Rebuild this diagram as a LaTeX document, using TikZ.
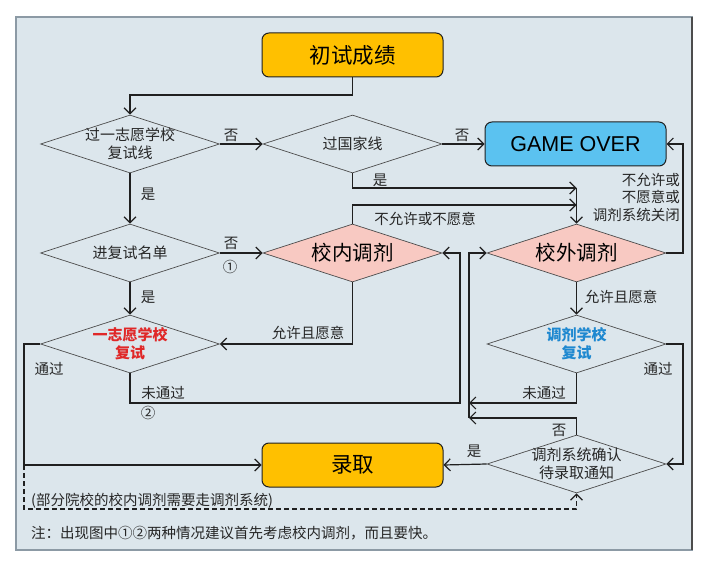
\documentclass[tikz,border=0pt]{standalone}
\usepackage{fontspec}
\setmainfont{Liberation Sans}
\newfontfamily\cjk{Noto Sans CJK SC}
\usetikzlibrary{shapes.geometric,arrows.meta}
\definecolor{bgc}{HTML}{DCE6EC}
\definecolor{framec}{HTML}{8C9AA5}
\definecolor{orangec}{HTML}{FFC000}
\definecolor{bluec}{HTML}{5BC2F0}
\definecolor{pinkc}{HTML}{F8C9C2}
\definecolor{redt}{HTML}{E02828}
\definecolor{bluet}{HTML}{1E88D0}
\definecolor{linec}{HTML}{202020}
\begin{document}
\begin{tikzpicture}[x=1pt,y=-1pt,
  box/.style={rectangle, rounded corners=7pt, minimum width=181pt, minimum height=44pt, draw=linec, line width=1pt, inner sep=0pt},
  dia/.style={diamond, minimum width=179pt, minimum height=58pt, draw=black!70, line width=0.7pt, inner sep=0pt},
  lbl/.style={font=\cjk\fontsize{14.5}{17.5}\selectfont, inner sep=0pt, text=black!85},
  dtxt/.style={font=\cjk\fontsize{15}{18}\selectfont, inner sep=0pt, align=center, text=black!85},
  btxt/.style={font=\cjk\fontsize{21.5}{24}\selectfont, inner sep=0pt},
  ptxt/.style={font=\cjk\fontsize{20.5}{24}\selectfont, inner sep=0pt},
  arr/.style={draw=linec, line width=1.2pt, -{Straight Barb[length=6pt,width=12pt]}}
]
\useasboundingbox (0,0) rectangle (714,569);
\fill[white] (0,0) rectangle (714,569);
\draw[fill=bgc, draw=framec, line width=1.5pt] (16,17) rectangle (692,550);
\draw[draw=black!70, line width=1.5pt] (692,17) -- (692,550);

% boxes
\node[box, fill=orangec] (start) at (352.5,55) {};
\node[btxt] (tstart) at (start) {初试成绩};
\node[box, fill=bluec] (go) at (575.5,144) {};
\node[font=\fontsize{21.5}{24}\selectfont, inner sep=0pt] (tgo) at (go) {GAME OVER};
\node[box, fill=orangec] (admit) at (352.5,465) {};
\node[btxt] (tadmit) at (admit) {录取};

% diamonds
\node[dia] (d1) at (130,144) {};
\node[dtxt] (td1) at (d1) {过一志愿学校\\复试线};
\node[dia] (d2) at (352.5,144) {};
\node[dtxt] (td2) at (d2) {过国家线};
\node[dia] (d3) at (130,253) {};
\node[dtxt] (td3) at (d3) {进复试名单};
\node[dia, fill=pinkc] (inner) at (352.5,253) {};
\node[ptxt] (tinner) at (inner) {校内调剂};
\node[dia] (d4) at (130,344) {};
\node[dtxt, text=redt, font=\cjk\bfseries\fontsize{15}{18}\selectfont] (td4) at (d4) {一志愿学校\\复试};
\node[dia, fill=pinkc] (outer) at (576.5,253) {};
\node[ptxt] (touter) at (outer) {校外调剂};
\node[dia] (d5) at (576.5,344) {};
\node[dtxt, text=bluet, font=\cjk\bfseries\fontsize{15}{18}\selectfont] (td5) at (d5) {调剂学校\\复试};
\node[dia] (d6) at (576.5,464) {};
\node[dtxt] (td6) at (d6) {调剂系统确认\\待录取通知};

% helper coordinates
\coordinate (c1) at (352.5,95);
\coordinate (c2) at (130,95);
\coordinate (c3) at (352.5,188);
\coordinate (c4) at (576.5,188);
\coordinate (c5) at (352.5,205);
\coordinate (c6) at (683,253);
\coordinate (c7) at (683,144);
\coordinate (c8) at (352.5,344);
\coordinate (c9) at (24,344);
\coordinate (c10) at (24,465);
\coordinate (c11) at (130,403);
\coordinate (c12) at (460,403);
\coordinate (c13) at (460,253);
\coordinate (c14) at (24,509);
\coordinate (c15) at (576.5,509);
\coordinate (c16) at (683,344);
\coordinate (c17) at (683,464);
\coordinate (c18) at (576.5,403);
\coordinate (c19) at (469,403);
\coordinate (c20) at (576.5,418);
\coordinate (c21) at (469,418);
\coordinate (c22) at (469,253);

% connectors
\draw[arr] (start.south) -- (c1) -- (c2) -- (d1.north);
\draw[arr] (d1.east) -- (d2.west);
\draw[arr] (d2.east) -- (go.west);
\draw[arr] (d2.south) -- (c3) -- (c4);
\draw[arr] (inner.north) -- (c5) -- (c5 -| c4);
\draw[arr] (c4) -- (outer.north);
\draw[arr] (outer.east) -- (c6) -- (c7) -- (go.east);
\draw[arr] (d1.south) -- (d3.north);
\draw[arr] (d3.east) -- (inner.west);
\draw[arr] (d3.south) -- (d4.north);
\draw[arr] (inner.south) -- (c8) -- (d4.east);
\draw[arr] (d4.west) -- (c9) -- (c10) -- (admit.west);
\draw[arr] (d4.south) -- (c11) -- (c12) -- (c13) -- (inner.east);
\draw[arr, dash pattern=on 5pt off 3pt] (c10) -- (c14) -- (c15) -- (d6.south);
\draw[arr] (outer.south) -- (d5.north);
\draw[arr] (d5.east) -- (c16) -- (c17) -- (d6.east);
\draw[arr] (d5.south) -- (c18) -- (c19);
\draw[arr] (d6.north) -- (c20) -- (c21);
\draw[arr] (c21) -- (c22) -- (outer.west);
\draw[arr] (d6.west) -- (admit.east);

% labels
\node[lbl] (l1) at (231,135) {否};
\node[lbl] (l2) at (462,135) {否};
\node[lbl] (l3) at (380,180) {是};
\node[lbl] (l4) at (425,219) {不允许或不愿意};
\node[lbl, align=right, anchor=east] (l5) at (680,197) {不允许或\\不愿意或\\调剂系统关闭};
\node[lbl] (l6) at (148,194) {是};
\node[lbl] (l7) at (231,243) {否};
\node[lbl] (l8) at (230,267) {①};
\node[lbl] (l9) at (148,297) {是};
\node[lbl] (l10) at (308,333) {允许且愿意};
\node[lbl] (l11) at (49,369) {通过};
\node[lbl] (l12) at (163,393) {未通过};
\node[lbl] (l13) at (148,413) {②};
\node[lbl, anchor=west] (l14) at (31,501) {(部分院校的校内调剂需要走调剂系统)};
\node[lbl] (l15) at (621,297) {允许且愿意};
\node[lbl] (l16) at (658,369) {通过};
\node[lbl] (l17) at (544,393) {未通过};
\node[lbl] (l18) at (559,430) {否};
\node[lbl] (l19) at (474,451) {是};
\node[lbl, anchor=west] (note) at (31,533) {注：出现图中①②两种情况建议首先考虑校内调剂，而且要快。};
\end{tikzpicture}
\end{document}
